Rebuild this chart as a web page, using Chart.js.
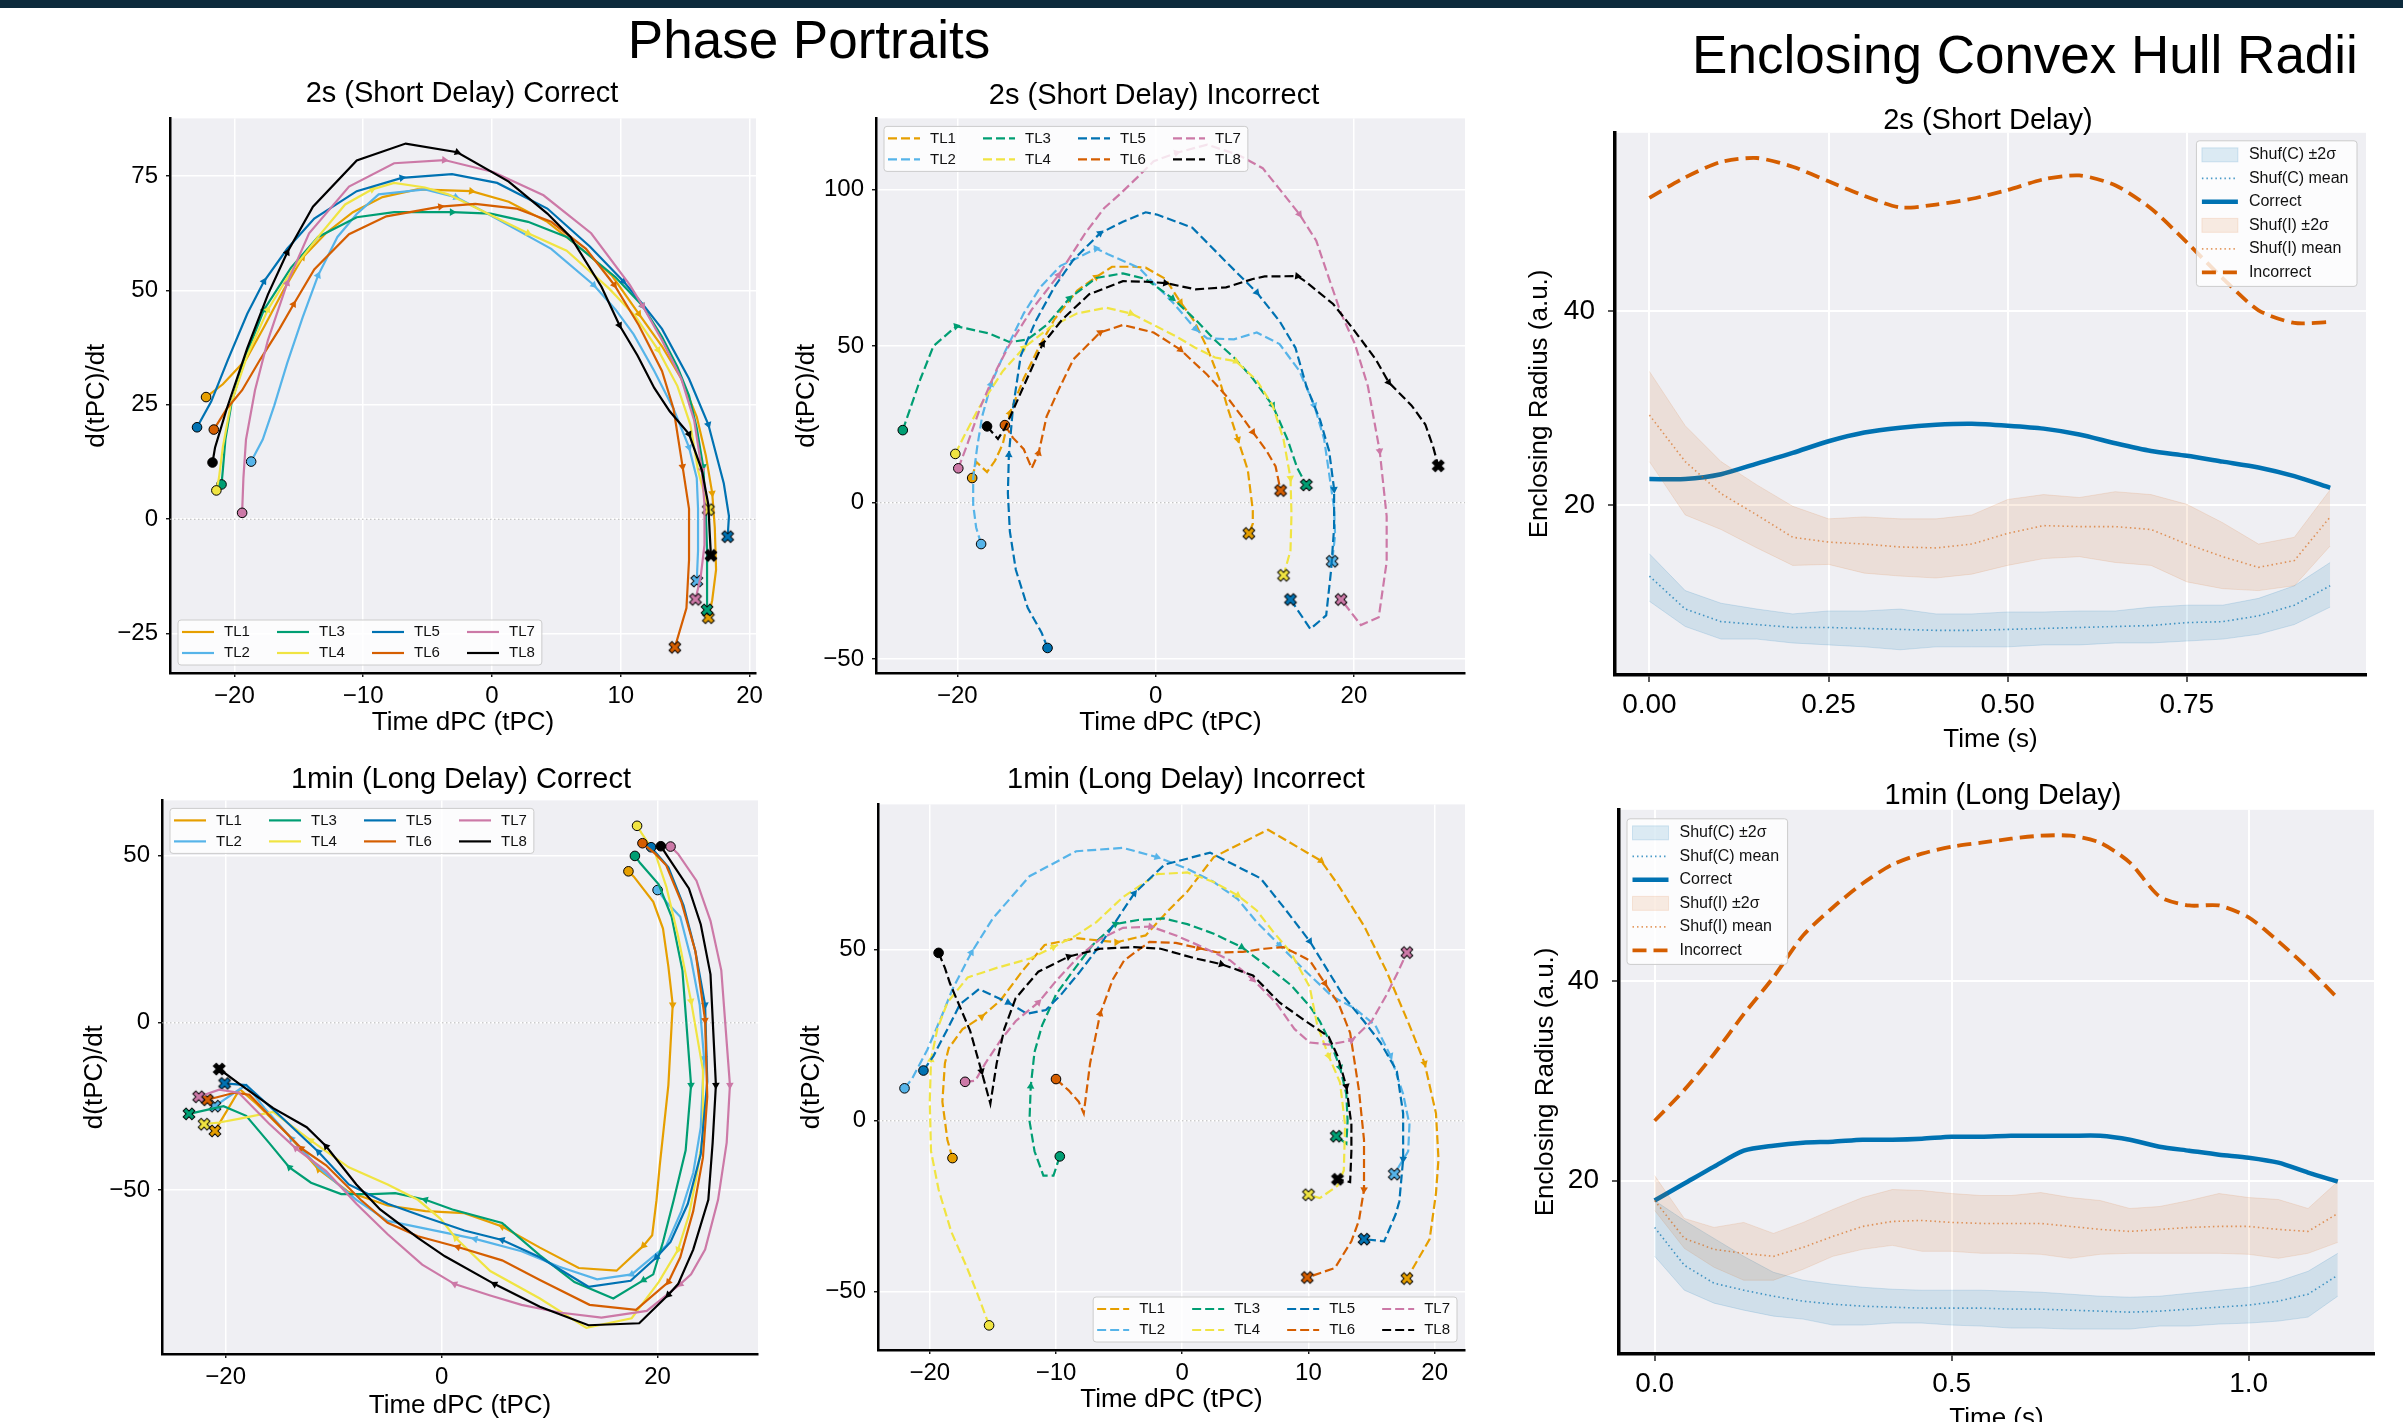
<!DOCTYPE html>
<html>
<head>
<meta charset="utf-8">
<title>Phase Portraits / Enclosing Convex Hull Radii</title>
<script src="https://cdn.jsdelivr.net/npm/chart.js@4.4.1/dist/chart.umd.min.js"></script>
<style>
  body { margin: 0; background: #fff; }
  #page { position: relative; width: 2403px; height: 1422px; overflow: hidden; background: #fff;
          font-family: "Liberation Sans", Arial, Helvetica, sans-serif; }
  .topbar { position: absolute; left: 0; top: 0; width: 2403px; height: 8px; background: #0c2a3c; }
  .txt { position: absolute; transform: translate(-50%, -50%); white-space: nowrap; line-height: 1; color: #000; }
  canvas { position: absolute; }
</style>
</head>
<body>
<div id="page"><div class="topbar"></div></div>
<script>
const FONT = '"Liberation Sans", Arial, Helvetica, sans-serif';

// trial labels and their colours
const trialLabels = ['TL1', 'TL2', 'TL3', 'TL4', 'TL5', 'TL6', 'TL7', 'TL8'];
const tlColors = ['#E69F00', '#56B4E9', '#009E73', '#F0E442', '#0072B2', '#D55E00', '#CC79A7', '#000000'];

// 2s (short delay) correct : [tPC, d(tPC)/dt]
const scTL1 = [[-22.2,26.7],[-20.9,29.5],[-19.1,34.9],[-17.7,42.0],[-16.2,50.0],[-14.7,57.2],[-12.9,62.5],[-10.8,67.1],[-8.5,70.4],[-5.8,72.1],[-1.6,71.7],[1.3,69.4],[4.3,65.0],[7.3,58.3],[9.3,53.3],[11.4,44.9],[13.2,37.8],[14.7,30.7],[15.9,22.4],[16.6,14.0],[17.1,5.7],[17.3,-1.8],[17.4,-11.0],[17.1,-17.7],[16.8,-21.5]];
const scTL2 = [[-18.7,12.6],[-17.8,17.4],[-16.9,24.9],[-15.9,34.1],[-14.7,44.1],[-13.5,53.3],[-12.0,61.7],[-10.5,66.7],[-8.8,71.0],[-5.2,72.1],[-2.8,70.4],[-0.7,67.3],[1.9,63.3],[4.6,59.1],[7.9,51.2],[9.6,45.8],[11.0,40.4],[12.6,32.4],[14.1,24.1],[15.3,15.7],[15.9,9.0],[16.0,2.3],[16.0,-6.9],[15.9,-13.5]];
const scTL3 = [[-21.0,7.6],[-20.9,10.7],[-20.7,17.4],[-20.2,25.7],[-19.1,35.8],[-17.7,45.8],[-15.6,55.0],[-13.5,61.7],[-10.5,66.0],[-7.6,67.1],[-3.1,67.1],[-0.1,66.8],[2.8,65.0],[5.8,61.7],[9.6,52.9],[11.7,46.6],[13.2,39.9],[14.4,33.3],[15.3,27.0],[15.9,19.9],[16.4,11.5],[16.6,2.3],[16.7,-6.9],[16.7,-15.2],[16.7,-19.8]];
const scTL4 = [[-21.4,6.3],[-21.2,9.0],[-20.9,15.7],[-20.3,24.9],[-19.0,35.8],[-17.4,45.8],[-15.6,54.1],[-13.5,61.7],[-11.4,68.8],[-9.3,72.1],[-7.6,73.5],[-5.2,72.5],[-3.4,71.0],[-0.1,66.5],[2.8,62.5],[5.8,58.7],[9.1,50.4],[11.1,44.5],[12.9,37.0],[14.4,29.1],[15.4,20.7],[16.0,10.7],[16.8,2.1]];
const scTL5 = [[-22.9,20.1],[-21.8,25.7],[-20.5,34.9],[-19.0,44.9],[-17.7,52.0],[-15.9,59.1],[-13.8,65.7],[-10.5,71.7],[-7.0,74.6],[-3.1,75.4],[0.4,73.5],[4.3,67.9],[7.6,59.6],[10.2,52.0],[11.7,47.0],[13.2,41.6],[15.3,30.7],[16.8,20.7],[18.0,7.8],[18.4,0.7],[18.3,-3.8]];
const scTL6 = [[-21.6,19.6],[-20.6,24.1],[-19.4,28.2],[-18.0,34.9],[-16.5,41.6],[-15.4,47.0],[-13.8,54.6],[-11.1,62.3],[-8.2,66.2],[-4.0,68.3],[-1.3,68.9],[1.9,67.9],[4.6,65.0],[7.3,59.1],[9.5,51.2],[11.4,42.4],[13.2,32.4],[14.1,24.1],[14.8,11.5],[15.3,2.3],[15.3,-8.9],[15.1,-19.4],[14.2,-28.0]];
const scTL7 = [[-19.4,1.4],[-19.3,9.0],[-19.1,17.4],[-18.4,28.2],[-17.4,39.1],[-15.9,51.6],[-14.2,62.5],[-11.1,72.7],[-7.6,77.8],[-3.7,78.5],[0.1,75.9],[4.0,70.8],[7.7,62.5],[10.7,51.2],[11.7,46.6],[13.2,39.1],[14.7,30.7],[15.7,21.6],[16.3,10.7],[16.5,3.2],[16.5,-5.6],[16.2,-12.7],[15.8,-17.5]];
const scTL8 = [[-21.7,12.4],[-21.5,15.7],[-20.6,24.1],[-19.0,37.4],[-17.4,49.1],[-15.9,58.3],[-13.9,68.3],[-10.5,78.4],[-6.7,82.1],[-2.7,80.2],[1.3,73.8],[4.3,66.8],[6.1,61.7],[8.5,50.8],[9.9,42.4],[11.3,35.8],[12.6,28.7],[13.8,23.6],[15.3,18.6],[16.3,10.7],[16.8,3.2],[16.9,-2.7],[17.0,-7.9]];

// 2s (short delay) incorrect
const siTL1 = [[-18.5,7.9],[-18.1,13.1],[-17.0,9.8],[-16.2,13.4],[-15.4,18.9],[-14.7,28.7],[-13.3,39.7],[-11.8,49.5],[-10.2,58.6],[-7.9,67.8],[-6.0,72.1],[-4.4,75.4],[-2.1,75.4],[-1.0,75.1],[1.0,71.5],[2.5,64.1],[3.9,58.0],[5.2,49.5],[6.4,39.7],[7.3,29.9],[8.3,20.2],[9.3,10.4],[9.8,-2.4],[9.8,-6.7],[9.4,-9.8]];
const siTL2 = [[-17.6,-13.2],[-18.1,-7.9],[-18.4,-0.6],[-18.4,7.9],[-18.0,17.7],[-17.5,27.5],[-16.6,37.9],[-15.2,48.2],[-13.3,60.5],[-11.6,69.0],[-9.6,75.7],[-7.9,78.2],[-6.0,81.2],[-4.8,79.4],[-1.7,75.1],[-0.2,70.2],[1.7,64.1],[4.0,55.6],[5.2,52.5],[7.9,52.2],[10.2,54.4],[12.5,50.7],[14.5,42.1],[16.0,31.1],[17.0,20.2],[17.5,9.2],[18.0,-1.8],[18.1,-10.4],[17.8,-18.7]];
const siTL3 = [[-25.5,23.2],[-25.1,26.9],[-23.7,39.7],[-22.4,50.1],[-20.1,56.4],[-16.8,54.1],[-14.7,51.3],[-12.9,52.2],[-11.0,56.8],[-8.7,65.3],[-6.0,71.8],[-3.3,73.3],[-1.0,71.5],[1.7,65.3],[4.0,58.6],[6.0,51.9],[7.9,46.4],[9.8,39.7],[11.8,31.1],[13.3,20.2],[14.3,11.0],[15.2,5.7]];
const siTL4 = [[-20.2,15.6],[-19.3,21.4],[-17.9,29.9],[-15.4,42.1],[-13.3,49.5],[-10.6,56.2],[-7.9,60.5],[-5.0,62.3],[-2.5,60.5],[-0.2,56.8],[2.1,53.1],[4.0,49.5],[6.0,46.4],[8.1,45.2],[10.2,39.1],[11.8,31.1],[12.9,20.2],[13.6,7.9],[13.7,-3.7],[13.6,-15.3],[12.9,-23.2]];
const siTL5 = [[-10.9,-46.4],[-11.5,-41.5],[-12.9,-33.6],[-14.1,-21.4],[-14.7,-9.2],[-14.9,3.1],[-14.8,15.3],[-14.4,29.9],[-13.6,47.0],[-12.1,58.0],[-10.2,69.0],[-8.3,77.6],[-5.6,86.1],[-3.3,89.8],[-1.0,92.8],[0.2,92.0],[3.7,87.9],[7.5,75.7],[10.2,67.2],[12.5,58.0],[14.1,49.5],[15.2,37.3],[16.6,26.3],[17.5,16.5],[18.0,4.3],[18.0,-7.9],[17.7,-21.4],[17.2,-36.0],[15.6,-40.3],[13.6,-30.9]];
const siTL6 = [[-15.2,24.8],[-14.4,20.8],[-13.3,17.1],[-12.5,11.0],[-11.8,15.9],[-11.0,27.5],[-9.8,36.0],[-8.3,45.8],[-5.6,54.4],[-3.3,56.8],[-0.2,54.4],[2.5,48.9],[5.2,40.9],[7.1,34.2],[8.7,27.5],[9.8,22.6],[11.2,16.5],[12.1,11.6],[12.6,3.9]];
const siTL7 = [[-19.9,11.0],[-19.1,17.7],[-17.6,31.1],[-16.0,42.8],[-14.7,50.7],[-12.5,61.7],[-9.8,72.7],[-7.1,86.1],[-5.2,94.1],[-3.5,98.9],[-1.7,104.4],[-0.2,109.1],[2.1,111.8],[5.2,114.4],[8.3,111.2],[10.8,106.9],[12.5,100.2],[14.5,92.2],[16.2,83.7],[17.5,71.5],[18.7,60.5],[20.1,50.7],[21.4,37.3],[22.6,16.5],[23.3,-4.3],[23.3,-18.9],[22.5,-36.6],[20.7,-39.1],[18.7,-30.9]];
const siTL8 = [[-17.0,24.4],[-15.9,20.4],[-15.2,23.8],[-14.5,28.7],[-13.3,37.3],[-11.4,50.7],[-9.4,58.6],[-6.7,66.6],[-3.3,70.8],[-1.0,70.6],[1.0,70.2],[4.0,68.2],[7.1,68.8],[9.8,71.5],[11.0,72.3],[14.3,72.4],[15.2,70.5],[17.9,63.5],[19.9,55.6],[22.2,45.8],[23.5,38.5],[25.8,31.1],[27.2,25.0],[28.0,17.7],[28.5,11.8]];

// 1min (long delay) correct
const lcTL1 = [[17.3,45.3],[17.8,43.7],[19.6,36.2],[20.5,28.2],[21.0,16.8],[21.4,5.4],[21.0,-18.6],[20.2,-42.6],[19.9,-53.0],[19.5,-63.5],[18.7,-66.6],[16.2,-74.1],[12.7,-73.3],[9.1,-67.2],[5.6,-60.9],[2.1,-56.9],[-1.5,-56.3],[-5.0,-54.6],[-8.6,-50.6],[-11.4,-43.8],[-14.2,-33.5],[-17.1,-24.3],[-18.7,-19.8],[-21.0,-32.3]];
const lcTL2 = [[20.0,39.7],[20.8,36.2],[22.1,31.7],[23.1,19.1],[23.9,5.4],[24.3,-10.6],[24.0,-31.2],[23.3,-44.9],[22.2,-56.3],[20.8,-66.6],[17.6,-75.2],[14.4,-76.7],[10.9,-72.9],[7.4,-68.3],[3.1,-64.6],[-1.5,-61.5],[-5.0,-59.2],[-7.9,-52.9],[-11.4,-43.2],[-13.9,-34.6],[-16.4,-25.5],[-18.1,-18.6],[-19.2,-20.9],[-21.0,-24.9]];
const lcTL3 = [[17.9,49.9],[18.4,47.7],[20.1,41.4],[21.3,31.7],[22.3,15.7],[23.1,-18.6],[22.6,-38.1],[21.5,-52.9],[20.5,-65.5],[19.6,-75.2],[18.7,-76.9],[15.9,-82.4],[12.3,-77.5],[9.1,-69.5],[5.6,-59.8],[1.0,-55.8],[-1.5,-52.9],[-4.3,-50.9],[-6.4,-51.2],[-9.3,-51.2],[-12.1,-47.8],[-14.1,-43.2],[-16.0,-35.8],[-18.1,-27.8],[-20.2,-24.9],[-23.4,-27.2]];
const lcTL4 = [[18.1,58.9],[18.5,56.8],[19.8,50.5],[20.8,40.8],[21.9,25.9],[23.1,6.5],[24.2,-14.1],[24.2,-33.5],[23.6,-46.1],[22.9,-57.5],[21.9,-67.8],[20.1,-77.5],[17.6,-88.3],[13.4,-91.2],[9.1,-82.4],[4.5,-74.2],[1.3,-64.3],[-0.1,-58.6],[-2.2,-52.9],[-5.0,-48.3],[-8.6,-43.2],[-12.1,-35.2],[-15.6,-26.6],[-18.8,-28.7],[-20.6,-29.8],[-22.0,-30.3]];
const lcTL5 = [[19.4,52.5],[21.0,46.5],[22.4,35.1],[23.5,21.4],[24.4,5.4],[24.6,-17.5],[24.0,-39.2],[22.8,-54.1],[21.2,-65.5],[19.9,-70.1],[17.5,-77.1],[13.6,-78.9],[9.1,-70.1],[5.6,-64.9],[2.1,-62.1],[-1.5,-58.1],[-5.0,-54.1],[-8.6,-48.3],[-11.4,-38.6],[-14.6,-28.9],[-18.1,-18.6],[-20.1,-18.1]];
const lcTL6 = [[18.6,53.7],[19.8,50.5],[20.8,47.1],[22.2,36.2],[23.5,21.4],[24.4,0.8],[24.6,-22.1],[24.2,-40.3],[23.3,-56.3],[22.1,-70.1],[21.0,-77.5],[18.0,-85.8],[13.7,-84.3],[9.1,-76.9],[5.6,-71.0],[1.5,-67.0],[-2.2,-63.8],[-5.0,-59.8],[-7.5,-52.9],[-10.7,-42.6],[-13.0,-37.5],[-15.6,-28.9],[-17.8,-21.5],[-19.2,-20.9],[-21.7,-23.0]];
const lcTL7 = [[21.2,52.7],[21.9,50.5],[23.6,42.5],[24.9,30.5],[25.9,15.7],[26.7,-18.6],[26.4,-35.8],[25.6,-52.9],[24.4,-67.8],[23.1,-75.2],[22.1,-78.1],[19.0,-86.1],[14.8,-88.1],[10.9,-86.6],[7.4,-84.3],[4.5,-81.5],[1.2,-78.1],[-1.8,-72.3],[-5.0,-63.2],[-7.9,-54.1],[-10.7,-44.3],[-13.5,-37.5],[-16.0,-30.1],[-18.8,-20.9],[-20.6,-20.0],[-22.5,-22.1]];
const lcTL8 = [[20.3,52.8],[21.0,49.4],[22.9,40.2],[24.0,29.4],[24.9,14.5],[25.4,-18.6],[25.1,-35.8],[24.7,-52.9],[23.3,-67.8],[21.9,-78.1],[21.0,-81.3],[18.3,-89.8],[13.6,-90.4],[9.1,-84.9],[4.9,-78.1],[0.3,-69.8],[-2.2,-64.3],[-5.7,-55.8],[-7.9,-48.3],[-10.7,-36.9],[-12.5,-31.2],[-15.6,-25.5],[-18.8,-18.1],[-20.6,-13.8]];

// 1min (long delay) incorrect
const liTL1 = [[-18.2,-10.9],[-18.6,-5.6],[-19.0,5.6],[-18.8,16.8],[-18.5,21.2],[-17.4,26.8],[-15.9,30.4],[-14.4,35.2],[-12.6,44.1],[-10.9,51.4],[-8.4,53.4],[-5.2,52.2],[-2.9,54.2],[-1.1,61.5],[0.4,67.0],[2.5,77.1],[6.8,85.1],[11.0,76.0],[12.4,68.7],[14.4,57.0],[16.2,43.6],[18.0,27.9],[19.2,16.8],[20.1,2.2],[20.3,-11.2],[20.1,-21.2],[19.6,-34.6],[17.8,-46.1]];
const liTL2 = [[-22.0,9.5],[-21.4,12.3],[-20.2,20.7],[-19.1,30.2],[-18.2,38.5],[-16.7,49.2],[-15.0,59.2],[-12.1,71.5],[-8.4,78.8],[-4.7,79.8],[-2.0,77.1],[0.4,73.7],[2.5,69.8],[4.4,64.8],[5.9,58.1],[7.7,51.4],[9.5,44.7],[11.9,36.3],[13.6,33.0],[15.3,27.9],[16.5,19.0],[17.5,7.8],[18.0,-1.1],[17.9,-8.9],[16.8,-15.6]];
const liTL3 = [[-9.7,-10.4],[-10.2,-16.0],[-11.0,-16.0],[-11.7,-8.9],[-12.1,0.0],[-12.0,10.1],[-11.7,20.1],[-11.1,27.9],[-10.0,36.9],[-8.7,43.6],[-7.1,51.4],[-5.3,57.5],[-3.5,58.7],[-1.5,59.2],[0.4,57.5],[2.5,54.7],[4.7,50.8],[6.5,45.8],[8.6,39.7],[10.1,33.5],[10.9,29.1],[11.8,22.3],[12.5,15.6],[13.0,7.8],[13.1,0.0],[13.0,-6.7],[12.2,-4.5]];
const liTL4 = [[-15.3,-59.8],[-16.2,-50.8],[-17.1,-42.5],[-18.3,-32.4],[-19.3,-20.1],[-19.9,-8.9],[-20.0,5.6],[-19.9,17.9],[-19.4,26.8],[-18.6,34.6],[-17.0,41.9],[-14.7,44.7],[-12.0,47.5],[-10.2,50.8],[-8.4,54.2],[-6.8,58.1],[-4.7,65.4],[-2.0,72.1],[0.4,72.6],[2.5,69.8],[4.4,65.9],[5.9,61.5],[7.2,55.3],[8.6,49.2],[10.1,39.1],[10.7,27.9],[11.6,19.0],[12.5,11.2],[12.9,-1.1],[12.8,-14.5],[12.3,-19.0],[10.9,-22.6],[10.0,-21.6]];
const liTL5 = [[-20.5,14.7],[-19.7,19.0],[-18.6,26.8],[-17.6,34.1],[-16.1,38.5],[-13.8,34.6],[-12.3,31.3],[-10.8,32.4],[-9.6,36.9],[-8.1,43.6],[-6.5,51.4],[-3.8,66.5],[-1.4,74.9],[2.2,78.4],[6.2,70.9],[8.0,62.6],[10.1,52.5],[12.8,36.3],[14.4,29.1],[15.7,22.9],[17.0,14.5],[17.5,2.2],[17.5,-11.2],[17.2,-23.5],[16.9,-27.4],[16.0,-35.2],[14.4,-34.6]];
const liTL6 = [[-10.0,12.2],[-9.0,8.9],[-8.2,5.6],[-7.8,2.2],[-7.3,16.8],[-6.5,31.3],[-5.5,41.3],[-4.6,46.9],[-2.6,52.3],[-0.5,52.0],[1.3,50.5],[2.8,49.2],[4.8,49.4],[6.5,50.3],[8.0,50.8],[10.1,46.9],[11.3,40.2],[12.4,34.1],[13.3,25.7],[14.0,8.9],[14.4,-5.6],[14.4,-20.1],[14.0,-29.1],[13.4,-35.2],[12.1,-43.0],[9.9,-45.8]];
const liTL7 = [[-17.2,11.4],[-16.4,11.7],[-15.6,16.8],[-14.4,23.5],[-13.2,29.1],[-11.4,34.6],[-9.9,41.3],[-8.2,48.0],[-6.5,53.1],[-4.7,56.4],[-2.5,56.8],[-0.5,54.2],[1.6,50.8],[3.8,46.9],[5.6,41.3],[7.4,34.6],[8.9,26.8],[10.1,22.9],[11.6,22.3],[13.4,23.5],[15.0,29.1],[16.2,36.9],[17.1,43.6],[17.8,49.2]];
const liTL8 = [[-19.3,49.1],[-18.8,44.7],[-18.4,40.2],[-17.7,34.1],[-16.8,26.3],[-15.9,14.5],[-15.2,5.0],[-14.7,16.8],[-14.1,26.8],[-13.2,35.8],[-11.4,43.6],[-9.0,48.0],[-6.5,50.3],[-3.8,50.8],[-1.7,50.3],[1.0,47.5],[3.1,45.8],[5.6,42.5],[7.7,34.6],[9.8,29.1],[11.6,24.6],[12.3,19.0],[13.0,10.1],[13.4,-1.1],[13.4,-8.9],[13.3,-17.9],[12.3,-17.1]];

// enclosing radii, 2s
const tShort = [0.00,0.05,0.10,0.15,0.20,0.25,0.30,0.35,0.40,0.45,0.50,0.55,0.60,0.65,0.70,0.75,0.80,0.85,0.90,0.95];
const shortCorrect   = [22.7,22.7,23.2,24.3,25.4,26.6,27.5,28.0,28.3,28.4,28.2,27.9,27.3,26.4,25.6,25.1,24.5,23.9,23.0,21.8];
const shortIncorrect = [51.7,53.8,55.4,55.8,54.9,53.4,51.9,50.7,51.0,51.6,52.5,53.6,54.0,53.0,50.6,47.1,43.4,40.1,38.8,38.9];
const shortShufCMean = [12.7,9.3,8.0,7.7,7.4,7.4,7.3,7.2,7.1,7.1,7.2,7.3,7.4,7.5,7.6,7.9,8.0,8.6,9.7,11.7];
const shortShufCHigh = [15.0,11.2,9.9,9.3,8.8,9.1,9.1,9.3,8.8,8.8,9.0,9.0,9.1,9.1,9.5,9.7,9.7,10.4,11.7,14.1];
const shortShufCLow  = [10.1,7.5,6.2,6.2,5.8,5.6,5.4,5.1,5.4,5.4,5.4,5.6,5.6,5.8,5.8,6.0,6.2,6.7,7.7,9.5];
const shortShufIMean = [29.3,24.5,21.2,19.0,16.7,16.2,16.0,15.7,15.6,16.0,17.1,17.9,17.8,17.8,17.5,16.0,14.7,13.6,14.3,18.8];
const shortShufIHigh = [33.8,28.2,24.5,22.1,19.9,18.6,18.8,18.6,18.6,19.0,20.6,21.1,20.8,21.4,21.1,20.1,18.2,16.0,16.7,21.6];
const shortShufILow  = [24.5,19.0,17.5,15.6,13.8,13.9,13.0,12.7,12.5,12.9,13.8,14.5,14.7,14.1,13.8,12.1,11.4,11.2,11.7,15.8];

// enclosing radii, 1min
const tLong = [0.00,0.05,0.10,0.15,0.20,0.25,0.30,0.35,0.40,0.45,0.50,0.55,0.60,0.65,0.70,0.75,0.80,0.85,0.90,0.95,1.00,1.05,1.10,1.15];
const longCorrect   = [18.0,19.7,21.4,23.0,23.5,23.8,23.9,24.1,24.1,24.2,24.4,24.4,24.5,24.5,24.5,24.5,24.1,23.4,23.0,22.6,22.3,21.8,20.8,19.9];
const longIncorrect = [26.0,29.1,32.7,36.7,40.4,44.6,47.4,49.8,51.7,52.8,53.5,53.9,54.3,54.6,54.6,53.9,51.9,48.5,47.6,47.6,46.4,44.0,41.3,38.3];
const longShufCMean = [15.3,11.5,9.7,9.0,8.4,7.9,7.6,7.4,7.3,7.2,7.2,7.2,7.1,7.1,7.0,6.9,6.8,6.9,7.1,7.3,7.5,7.9,8.6,10.5];
const longShufCHigh = [18.0,16.0,14.2,12.4,10.8,10.0,9.6,9.3,9.1,9.0,9.0,9.0,8.9,8.8,8.6,8.4,8.3,8.4,8.7,9.0,9.3,9.9,10.9,12.7];
const longShufCLow  = [12.4,9.0,7.7,7.0,6.4,6.1,5.5,5.5,5.7,5.7,5.5,5.4,5.2,5.2,5.1,5.1,5.1,5.4,5.4,5.6,5.7,5.9,6.3,8.4];
const longShufIMean = [18.0,14.2,13.1,12.7,12.4,13.3,14.4,15.4,15.9,16.0,15.8,15.7,15.7,15.7,15.4,15.1,14.9,15.1,15.3,15.4,15.4,15.1,14.9,16.7];
const longShufIHigh = [20.5,16.2,15.3,15.8,14.7,15.8,17.1,18.3,19.1,19.0,18.7,18.5,18.5,18.8,18.3,18.0,17.2,17.4,18.0,18.7,18.3,18.1,17.2,19.9];
const longShufILow  = [17.0,13.2,11.3,10.0,10.0,11.1,12.4,13.1,13.5,12.9,12.9,12.7,12.7,12.6,12.2,12.6,12.7,12.7,12.7,12.7,12.6,12.2,12.7,13.8];

// tick values
const phaseTicksWide = [-20, -10, 0, 10, 20];
const phaseTicksNarrow = [-20, 0, 20];
const scYTicks = [-25, 0, 25, 50, 75];
const siYTicks = [-50, 0, 50, 100];
const longYTicks = [-50, 0, 50];
const shortTimeTicks = [0, 0.25, 0.5, 0.75];
const longTimeTicks = [0, 0.5, 1.0];
const radiusTicks = [20, 40];

const page = document.getElementById('page');

const plotBg = {
  id: 'plotBg',
  beforeDraw(chart, args, opts) {
    const {ctx, chartArea: a} = chart;
    ctx.save();
    ctx.fillStyle = opts.color;
    ctx.fillRect(a.left, a.top, a.width, a.height);
    ctx.restore();
  }
};

const zeroLine = {
  id: 'zeroLine',
  beforeDatasetsDraw(chart, args, opts) {
    if (!opts.display) return;
    const {ctx, chartArea: a} = chart;
    const py = chart.scales.y.getPixelForValue(0);
    ctx.save();
    ctx.strokeStyle = '#b5b5b5';
    ctx.lineWidth = 1;
    ctx.setLineDash([1.5, 2.5]);
    ctx.beginPath();
    ctx.moveTo(a.left, py);
    ctx.lineTo(a.right, py);
    ctx.stroke();
    ctx.restore();
  }
};

// matplotlib-like legend box drawn inside the axes
const boxLegend = {
  id: 'boxLegend',
  afterDatasetsDraw(chart, args, o) {
    const items = chart.data.datasets.filter(d => d.legendRank !== undefined)
      .sort((a, b) => a.legendRank - b.legendRank);
    const ctx = chart.ctx, area = chart.chartArea;
    const nrow = Math.ceil(items.length / o.ncol);
    ctx.save();
    ctx.font = o.fontSize + 'px ' + FONT;
    const textW = Math.max(...items.map(d => ctx.measureText(d.label).width));
    const boxW = 2 * o.padX + (o.ncol - 1) * o.colPitch + o.sample + o.gap + textW + 3;
    const boxH = 2 * o.padY + nrow * o.rowH;
    const x0 = o.corner.includes('right') ? area.right - o.insetX - boxW : area.left + o.insetX;
    const y0 = o.corner.includes('lower') ? area.bottom - o.insetY - boxH : area.top + o.insetY;
    ctx.beginPath();
    if (ctx.roundRect) ctx.roundRect(x0, y0, boxW, boxH, 3); else ctx.rect(x0, y0, boxW, boxH);
    ctx.fillStyle = 'rgba(255,255,255,0.8)';
    ctx.fill();
    ctx.strokeStyle = '#cccccc';
    ctx.lineWidth = 1;
    ctx.stroke();
    items.forEach((d, k) => {
      const col = Math.floor(k / nrow), row = k % nrow;
      const sx = x0 + o.padX + col * o.colPitch;
      const cy = y0 + o.padY + (row + 0.5) * o.rowH;
      if (d.legendKind === 'band') {
        ctx.fillStyle = d.backgroundColor;
        ctx.fillRect(sx, cy - 7, o.sample, 14);
        ctx.strokeStyle = d.borderColor;
        ctx.lineWidth = 1;
        ctx.strokeRect(sx, cy - 7, o.sample, 14);
      } else {
        ctx.strokeStyle = d.borderColor;
        ctx.lineWidth = d.borderWidth;
        ctx.setLineDash(d.borderDash || []);
        ctx.beginPath();
        ctx.moveTo(sx, cy);
        ctx.lineTo(sx + o.sample, cy);
        ctx.stroke();
        ctx.setLineDash([]);
      }
      ctx.fillStyle = '#111';
      ctx.textBaseline = 'middle';
      ctx.textAlign = 'left';
      ctx.fillText(d.label, sx + o.sample + o.gap, cy);
    });
    ctx.restore();
  }
};

const markerCache = {};
function xMarker(color) {
  if (markerCache[color]) return markerCache[color];
  const s = 18, c = document.createElement('canvas');
  c.width = s; c.height = s;
  const g = c.getContext('2d');
  g.translate(s / 2, s / 2);
  g.rotate(Math.PI / 4);
  const r = 6.2, w = 2.1;
  const pts = [[w,r],[w,w],[r,w],[r,-w],[w,-w],[w,-r],[-w,-r],[-w,-w],[-r,-w],[-r,w],[-w,w],[-w,r]];
  g.beginPath();
  pts.forEach((p, i) => i ? g.lineTo(p[0], p[1]) : g.moveTo(p[0], p[1]));
  g.closePath();
  g.fillStyle = color;
  g.fill();
  g.lineWidth = 1;
  g.strokeStyle = '#000';
  g.stroke();
  markerCache[color] = c;
  return c;
}

function arrowAngle(c) {
  const d = c.dataset.data, i = c.dataIndex;
  const xs = c.chart.scales.x, ys = c.chart.scales.y;
  const a = d[i - 1], b = d[i + 1];
  const dx = xs.getPixelForValue(b.x) - xs.getPixelForValue(a.x);
  const dy = ys.getPixelForValue(b.y) - ys.getPixelForValue(a.y);
  return Math.atan2(dx, -dy) * 180 / Math.PI;
}

function trajDataset(pts, k, dashed) {
  const color = tlColors[k];
  const n = pts.length;
  const arrows = [1, 2, 3, 4].map(j => Math.round(n * j / 5));
  const kind = i => i === 0 ? 'start' : i === n - 1 ? 'end' : arrows.includes(i) ? 'arrow' : 'none';
  return {
    label: trialLabels[k],
    legendRank: k,
    data: pts.map(p => ({x: p[0], y: p[1]})),
    showLine: true,
    borderColor: color,
    borderWidth: 2.2,
    borderDash: dashed ? [9, 4] : [],
    tension: 0,
    order: 10 - k,
    pointStyle: c => { const t = kind(c.dataIndex); return t === 'end' ? xMarker(color) : t === 'arrow' ? 'triangle' : 'circle'; },
    pointRadius: c => ({start: 4.8, end: 6, arrow: 4.4, none: 0})[kind(c.dataIndex)],
    pointBackgroundColor: color,
    pointBorderColor: c => kind(c.dataIndex) === 'start' ? '#000' : color,
    pointBorderWidth: c => kind(c.dataIndex) === 'start' ? 1 : 0,
    pointRotation: c => kind(c.dataIndex) === 'arrow' ? arrowAngle(c) : 0
  };
}

function radiiDatasets(t, cLow, cHigh, cMean, correct, iLow, iHigh, iMean, incorrect) {
  const pts = arr => arr.map((v, i) => ({x: t[i], y: v}));
  const base = {showLine: true, pointRadius: 0, tension: 0};
  return [
    {...base, data: pts(cLow), borderColor: 'rgba(0,114,178,0.15)', borderWidth: 1, fill: false, order: 9},
    {...base, label: 'Shuf(C) \u00b12\u03c3', legendRank: 0, legendKind: 'band', data: pts(cHigh),
      borderColor: 'rgba(0,114,178,0.15)', borderWidth: 1, backgroundColor: 'rgba(0,114,178,0.13)', fill: '-1', order: 8},
    {...base, label: 'Shuf(C) mean', legendRank: 1, data: pts(cMean), borderColor: 'rgba(0,114,178,0.7)',
      borderWidth: 1.6, borderDash: [1.5, 3], order: 7},
    {...base, data: pts(iLow), borderColor: 'rgba(213,94,0,0.12)', borderWidth: 1, fill: false, order: 5},
    {...base, label: 'Shuf(I) \u00b12\u03c3', legendRank: 3, legendKind: 'band', data: pts(iHigh),
      borderColor: 'rgba(213,94,0,0.12)', borderWidth: 1, backgroundColor: 'rgba(213,94,0,0.11)', fill: '-1', order: 4},
    {...base, label: 'Shuf(I) mean', legendRank: 4, data: pts(iMean), borderColor: 'rgba(213,94,0,0.6)',
      borderWidth: 1.6, borderDash: [1.5, 3], order: 3},
    {...base, label: 'Correct', legendRank: 2, data: pts(correct), borderColor: '#0072B2',
      borderWidth: 4.5, tension: 0.25, order: 6},
    {...base, label: 'Incorrect', legendRank: 5, data: pts(incorrect), borderColor: '#D55E00',
      borderWidth: 3.8, borderDash: [14, 7], tension: 0.25, order: 1}
  ];
}

function addText(text, cx, cy, size) {
  const el = document.createElement('div');
  el.className = 'txt';
  el.textContent = text;
  el.style.left = cx + 'px';
  el.style.top = cy + 'px';
  el.style.fontSize = size + 'px';
  page.appendChild(el);
}

function addPanel(p) {
  const YW = 110, XH = 95, PT = 22, PR = 34;
  const w = p.box.R - p.box.L + YW + PR;
  const h = p.box.B - p.box.T + PT + XH;
  const canvas = document.createElement('canvas');
  canvas.width = w;
  canvas.height = h;
  canvas.style.left = (p.box.L - YW) + 'px';
  canvas.style.top = (p.box.T - PT) + 'px';
  canvas.style.width = w + 'px';
  canvas.style.height = h + 'px';
  page.appendChild(canvas);

  const lh = 26 * 1.2;
  const tickOpts = (gap, fmt) => ({font: {size: p.tickFont, family: FONT}, color: '#000', padding: gap - p.tickLen, callback: fmt});
  const gridOpts = {color: '#ffffff', lineWidth: p.gridW, tickColor: '#000', tickLength: p.tickLen, tickWidth: 1.3};
  const borderOpts = {color: '#000', width: p.spine};

  new Chart(canvas, {
    type: 'scatter',
    data: {datasets: p.datasets},
    options: {
      responsive: false,
      animation: false,
      devicePixelRatio: 1,
      events: [],
      layout: {padding: {left: 0, top: PT, right: PR, bottom: 0}},
      plugins: {
        legend: {display: false},
        tooltip: {enabled: false},
        plotBg: {color: '#EFEFF3'},
        zeroLine: {display: p.zeroLine},
        boxLegend: p.legend
      },
      scales: {
        x: {
          type: 'linear', min: p.x[0], max: p.x[1],
          afterFit: s => { s.height = XH; },
          afterBuildTicks: s => { s.ticks = p.xTicks.map(v => ({value: v})); },
          ticks: tickOpts(p.xGap, p.xFmt),
          grid: gridOpts,
          border: borderOpts,
          title: {display: true, text: p.xTitle, color: '#000', font: {size: 26, family: FONT},
            padding: {top: 0, bottom: XH - p.xTitleOff - lh / 2}}
        },
        y: {
          type: 'linear', min: p.y[0], max: p.y[1],
          afterFit: s => { s.width = YW; },
          afterBuildTicks: s => { s.ticks = p.yTicks.map(v => ({value: v})); },
          ticks: tickOpts(p.yGap, p.yFmt),
          grid: gridOpts,
          border: borderOpts,
          title: {display: true, text: p.yTitle, color: '#000', font: {size: 26, family: FONT},
            padding: {top: YW - p.yTitleOff - lh / 2, bottom: 0}}
        }
      }
    },
    plugins: [plotBg, zeroLine, boxLegend]
  });

  addText(p.title, p.titlePos[0], p.titlePos[1], 29);
}

const minusFmt = v => String(v).replace('-', '\u2212');
const phaseLegend = corner => ({corner: corner, ncol: 4, fontSize: 15, padX: 4, padY: 1.5, rowH: 21,
  sample: 32, gap: 10, colPitch: 95, insetX: 8, insetY: 8});
const radiiLegend = (corner, ix, iy) => ({corner: corner, ncol: 1, fontSize: 16, padX: 5.5, padY: 2.3, rowH: 23.5,
  sample: 36, gap: 11, colPitch: 0, insetX: ix, insetY: iy});
const phaseBase = {tickFont: 24, tickLen: 4, xGap: 8.6, yGap: 12, gridW: 1.5, spine: 2.5, xFmt: minusFmt, yFmt: minusFmt,
  zeroLine: true, xTitle: 'Time dPC (tPC)', yTitle: 'd(tPC)/dt'};
const radiiBase = {tickFont: 28, tickLen: 7, xGap: 13.2, yGap: 20, gridW: 2, spine: 3.5, yFmt: minusFmt,
  zeroLine: false, xTitle: 'Time (s)', yTitle: 'Enclosing Radius (a.u.)', xTitleOff: 65};

const shortCorrectSet = [scTL1, scTL2, scTL3, scTL4, scTL5, scTL6, scTL7, scTL8];
const shortIncorrectSet = [siTL1, siTL2, siTL3, siTL4, siTL5, siTL6, siTL7, siTL8];
const longCorrectSet = [lcTL1, lcTL2, lcTL3, lcTL4, lcTL5, lcTL6, lcTL7, lcTL8];
const longIncorrectSet = [liTL1, liTL2, liTL3, liTL4, liTL5, liTL6, liTL7, liTL8];

addText('Phase Portraits', 809, 39, 53);
addText('Enclosing Convex Hull Radii', 2025, 54, 53);

addPanel({...phaseBase, box: {L: 170, T: 118, R: 756, B: 673}, x: [-25.0, 20.5], y: [-33.6, 87.6],
  xTicks: phaseTicksWide, yTicks: scYTicks, xTitleOff: 50, yTitleOff: 73,
  title: '2s (Short Delay) Correct', titlePos: [462, 92],
  datasets: shortCorrectSet.map((pts, k) => trajDataset(pts, k, false)), legend: phaseLegend('lower left')});

addPanel({...phaseBase, box: {L: 876, T: 118, R: 1465, B: 673}, x: [-28.2, 31.2], y: [-54.4, 122.8],
  xTicks: phaseTicksNarrow, yTicks: siYTicks, xTitleOff: 50, yTitleOff: 69,
  title: '2s (Short Delay) Incorrect', titlePos: [1154, 94],
  datasets: shortIncorrectSet.map((pts, k) => trajDataset(pts, k, true)), legend: phaseLegend('upper left')});

addPanel({...radiiBase, box: {L: 1615, T: 125, R: 2366, B: 675}, x: [-0.048, 1.0], y: [2.5, 58.4],
  xTicks: shortTimeTicks, yTicks: radiusTicks, yTitleOff: 75, xFmt: v => v.toFixed(2),
  title: '2s (Short Delay)', titlePos: [1988, 119],
  datasets: radiiDatasets(tShort, shortShufCLow, shortShufCHigh, shortShufCMean, shortCorrect,
    shortShufILow, shortShufIHigh, shortShufIMean, shortIncorrect),
  legend: radiiLegend('upper right', 9, 8)});

addPanel({...phaseBase, box: {L: 162, T: 800, R: 758, B: 1354}, x: [-25.9, 29.3], y: [-99.0, 66.5],
  xTicks: phaseTicksNarrow, yTicks: longYTicks, xTitleOff: 52, yTitleOff: 67,
  title: '1min (Long Delay) Correct', titlePos: [461, 778],
  datasets: longCorrectSet.map((pts, k) => trajDataset(pts, k, false)), legend: phaseLegend('upper left')});

addPanel({...phaseBase, box: {L: 878, T: 804, R: 1465, B: 1350}, x: [-24.1, 22.4], y: [-67.0, 92.5],
  xTicks: phaseTicksWide, yTicks: longYTicks, xTitleOff: 50, yTitleOff: 66,
  title: '1min (Long Delay) Incorrect', titlePos: [1186, 778],
  datasets: longIncorrectSet.map((pts, k) => trajDataset(pts, k, true)), legend: phaseLegend('lower right')});

addPanel({...radiiBase, box: {L: 1619, T: 802, R: 2374, B: 1354}, x: [-0.06, 1.211], y: [2.6, 57.2],
  xTicks: longTimeTicks, yTicks: radiusTicks, yTitleOff: 73, xFmt: v => v.toFixed(1),
  title: '1min (Long Delay)', titlePos: [2003, 794],
  datasets: radiiDatasets(tLong, longShufCLow, longShufCHigh, longShufCMean, longCorrect,
    longShufILow, longShufIHigh, longShufIMean, longIncorrect),
  legend: radiiLegend('upper left', 8, 9)});
</script>
</body>
</html>
